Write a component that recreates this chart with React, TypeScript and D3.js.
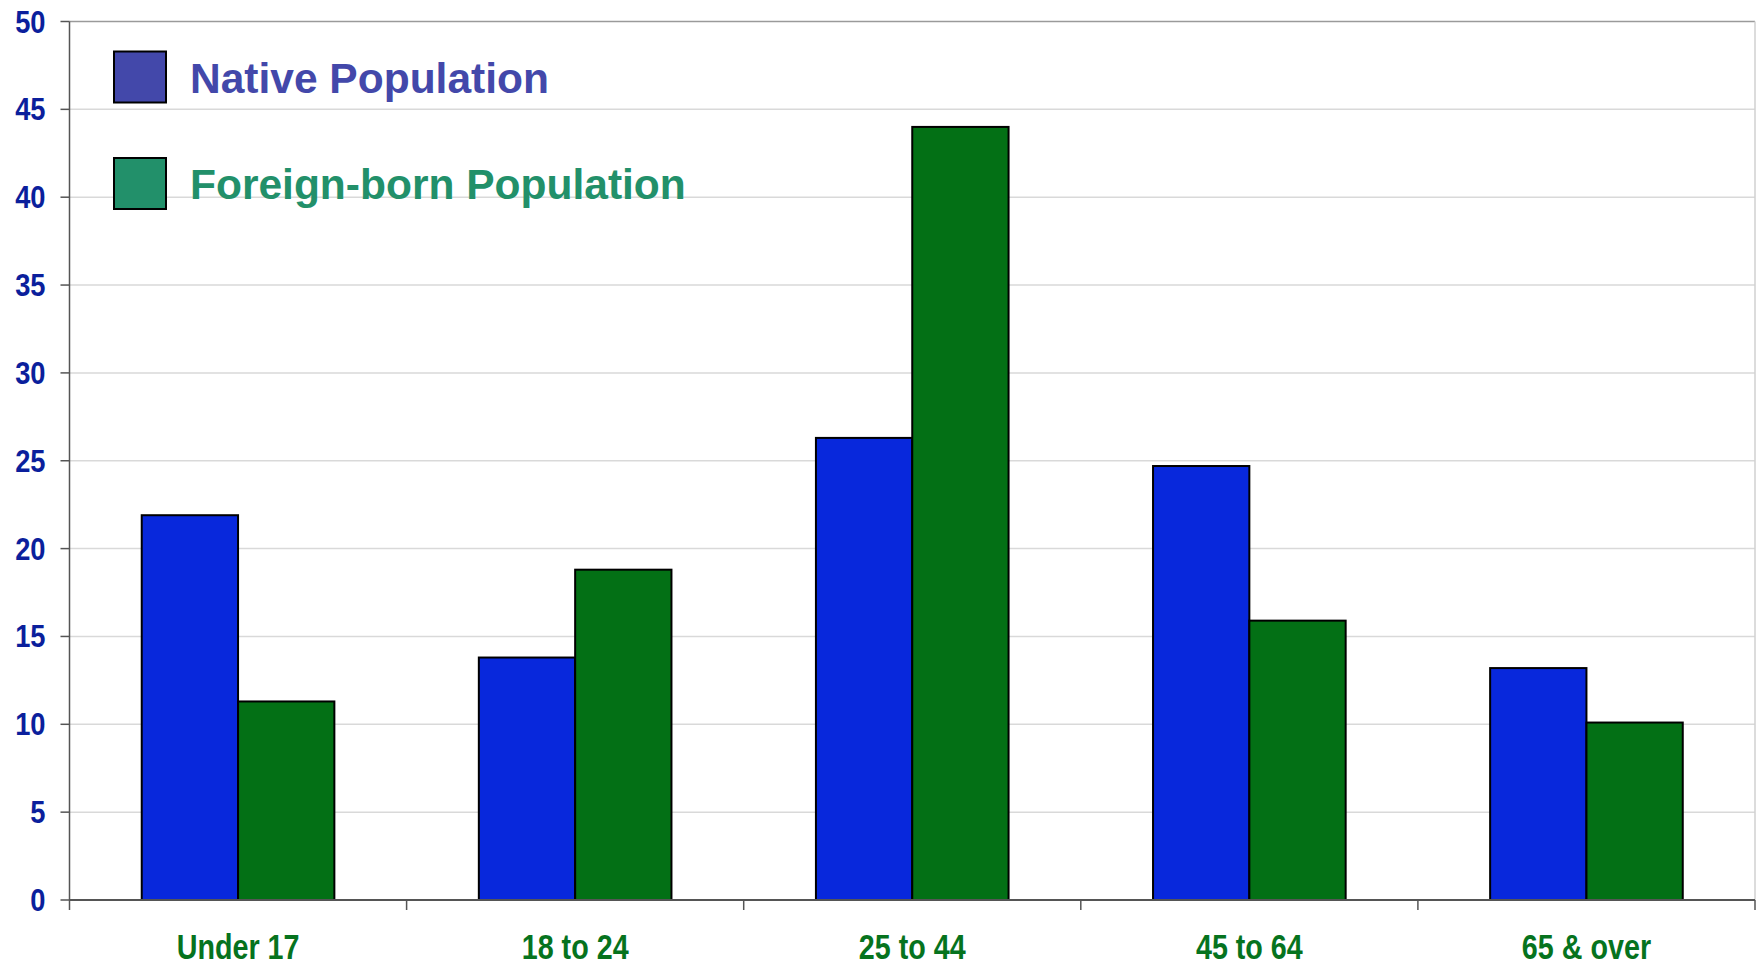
import * as d3 from "d3";

const categories = ["Under 17", "18 to 24", "25 to 44", "45 to 64", "65 & over"];
const seriesNames = ["Native Population", "Foreign-born Population"];
const nativeValues = [21.9, 13.8, 26.3, 24.7, 13.2];
const foreignValues = [11.3, 18.8, 44.0, 15.9, 10.1];
const yTicks = [0, 5, 10, 15, 20, 25, 30, 35, 40, 45, 50];

const barColors = ["#0828dc", "#037015"];
const legendColors = ["#4348aa", "#22906a"];

export default function App() {
    // Chart size and plot area
    const width = 1756;
    const height = 967;
    const marginLeft = 69.5;
    const marginRight = 1;
    const marginTop = 21.5;
    const marginBottom = 67;

    const x = d3.scaleBand<string>()
        .domain(categories)
        .range([marginLeft, width - marginRight]);

    // two bars per group, gap width of 150%
    const barW = x.bandwidth() / 3.5;
    const x1 = d3.scaleBand<number>()
        .domain([0, 1])
        .range([0, barW * 2]);

    const y = d3.scaleLinear()
        .domain([0, 50])
        .range([height - marginBottom, marginTop]);

    const series = [nativeValues, foreignValues];
    const font = "'Liberation Sans', Arial, sans-serif";
    const bounds = categories.map(c => x(c) as number).concat([width - marginRight]);

    return (
        <svg width={width} height={height} style={{ position: "absolute", left: 0, top: 0, background: "#fff" }}>
            {/* gridlines */}
            {yTicks.filter(t => t > 0 && t < 50).map(t => (
                <line key={t} x1={marginLeft} x2={width - marginRight} y1={y(t)} y2={y(t)}
                    stroke="#d9d9d9" strokeWidth={1.5} />
            ))}
            <line x1={marginLeft} x2={width - marginRight} y1={y(50)} y2={y(50)} stroke="#9a9a9a" strokeWidth={1.5} />
            <line x1={width - marginRight} x2={width - marginRight} y1={y(50)} y2={y(0)} stroke="#d0d0d0" strokeWidth={1.5} />

            {/* bars */}
            {categories.map((c, i) => (
                <g key={c} transform={`translate(${(x(c) as number) + (x.bandwidth() - barW * 2) / 2},0)`}>
                    {series.map((vals, s) => (
                        <rect key={s}
                            x={x1(s)}
                            y={y(vals[i])}
                            width={x1.bandwidth()}
                            height={y(0) - y(vals[i])}
                            fill={barColors[s]}
                            stroke="#000"
                            strokeWidth={2} />
                    ))}
                </g>
            ))}

            {/* y axis */}
            <line x1={marginLeft} x2={marginLeft} y1={y(50)} y2={y(0)} stroke="#555" strokeWidth={1.5} />
            {yTicks.map(t => (
                <g key={t}>
                    <line x1={marginLeft - 9} x2={marginLeft} y1={y(t)} y2={y(t)} stroke="#555" strokeWidth={1.5} />
                    <text transform={`translate(45.5,${y(t) + 11}) scale(0.88,1)`}
                        textAnchor="end" fontFamily={font} fontWeight="bold" fontSize={31} fill="#0b1f9c">
                        {t}
                    </text>
                </g>
            ))}

            {/* x axis */}
            <line x1={marginLeft} x2={width - marginRight} y1={y(0)} y2={y(0)} stroke="#555" strokeWidth={2} />
            {bounds.map((b, i) => (
                <line key={i} x1={b} x2={b} y1={y(0)} y2={y(0) + 10} stroke="#555" strokeWidth={1.5} />
            ))}
            {categories.map(c => (
                <text key={c}
                    transform={`translate(${(x(c) as number) + x.bandwidth() / 2},959) scale(0.82,1)`}
                    textAnchor="middle" fontFamily={font} fontWeight="bold" fontSize={35} fill="#06731e">
                    {c}
                </text>
            ))}

            {/* legend */}
            {seriesNames.map((name, s) => (
                <g key={name} transform={`translate(114,${51.5 + s * 106.5})`}>
                    <rect x={0} y={0} width={52} height={51} fill={legendColors[s]} stroke="#000" strokeWidth={2} />
                    <text x={76} y={41} fontFamily={font} fontWeight="bold" fontSize={42.5} fill={legendColors[s]}>
                        {name}
                    </text>
                </g>
            ))}
        </svg>
    );
}
